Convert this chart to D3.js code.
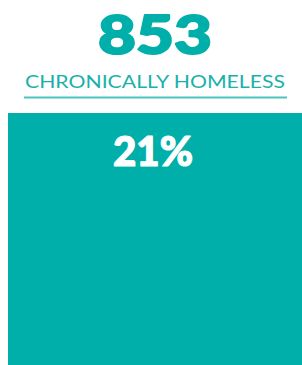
<!DOCTYPE html>
<html lang="en">
<head>
  <meta charset="UTF-8">
  <title>Chronically Homeless</title>
  <script src="https://d3js.org/d3.v7.min.js"></script>
  <style>
    body { margin: 0; background: #fff; }
    .big { font-family: Lato, sans-serif; font-weight: 900; }
    .label { font-family: Lato, sans-serif; font-weight: 400; }
  </style>
</head>
<body>
  <svg width="302" height="365"></svg>
  <script>
    const totals = [853];
    const labels = ["CHRONICALLY HOMELESS"];
    const shares = [21];

    const svg = d3.select("svg"),
          width = +svg.attr("width"),
          height = +svg.attr("height");

    const teal = "#00afa9";

    // block fills from left margin to edge, full share range
    const x = d3.scaleLinear().domain([0, 1]).range([8, width]);
    const y = d3.scaleLinear().domain([0, 1]).range([113, height]);

    svg.append("text")
      .attr("class", "big")
      .attr("x", 155)
      .attr("y", 54)
      .attr("text-anchor", "middle")
      .attr("font-size", 54)
      .attr("textLength", 114)
      .attr("lengthAdjust", "spacingAndGlyphs")
      .attr("fill", teal)
      .attr("stroke", teal)
      .attr("stroke-width", 2)
      .attr("stroke-linejoin", "round")
      .text(d3.format(",")(totals[0]));

    svg.append("text")
      .attr("class", "label")
      .attr("x", 155)
      .attr("y", 88)
      .attr("text-anchor", "middle")
      .attr("font-size", 18)
      .attr("textLength", 260)
      .attr("lengthAdjust", "spacingAndGlyphs")
      .attr("fill", "#19b1ab")
      .text(labels[0]);

    svg.append("line")
      .attr("x1", 24).attr("x2", 287)
      .attr("y1", 97.5).attr("y2", 97.5)
      .attr("stroke", "#4cc3be")
      .attr("stroke-width", 2);

    svg.append("rect")
      .attr("x", x(0))
      .attr("y", y(0))
      .attr("width", x(1) - x(0))
      .attr("height", y(1) - y(0))
      .attr("fill", teal);

    svg.append("text")
      .attr("class", "big")
      .attr("x", 153)
      .attr("y", 166)
      .attr("text-anchor", "middle")
      .attr("font-size", 41)
      .attr("textLength", 80)
      .attr("lengthAdjust", "spacingAndGlyphs")
      .attr("fill", "#fff")
      .attr("stroke", "#fff")
      .attr("stroke-width", 1.2)
      .attr("stroke-linejoin", "round")
      .text(shares[0] + "%");
  </script>
</body>
</html>
